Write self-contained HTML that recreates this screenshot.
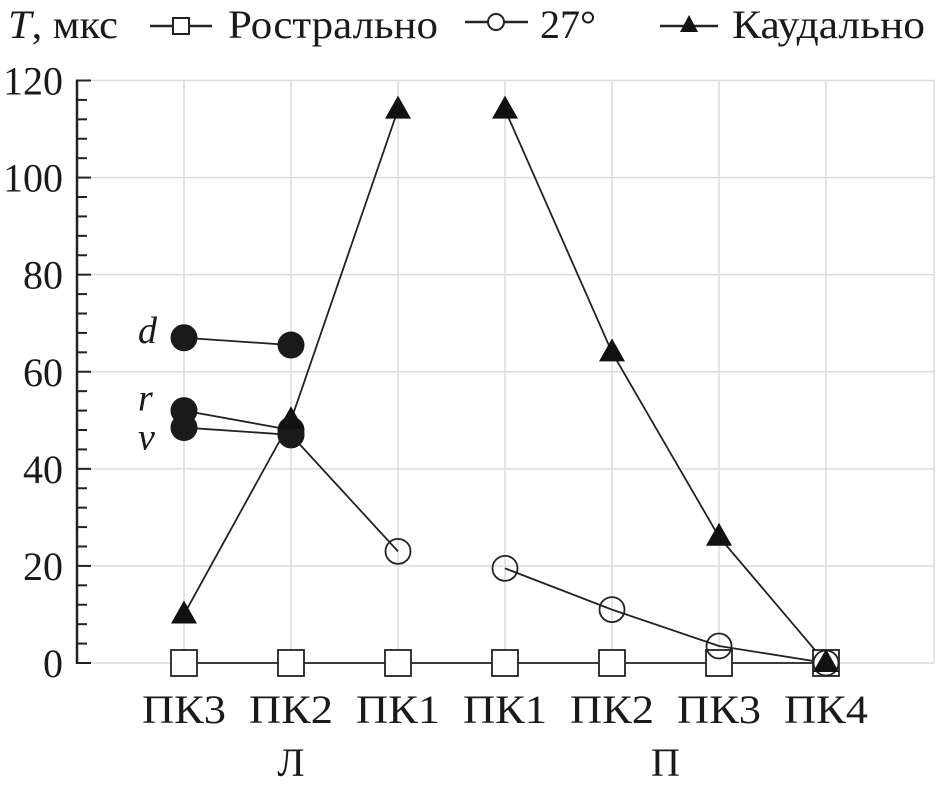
<!DOCTYPE html>
<html><head><meta charset="utf-8"><style>
html,body{margin:0;padding:0;background:#fff}
svg text{font-family:"Liberation Serif",serif;fill:#1a1a1a}
</style></head><body>
<svg id="chart" width="938" height="788" viewBox="0 0 938 788" xmlns="http://www.w3.org/2000/svg">
<g id="grid"></g>
<g id="axes"></g>
<g id="series"></g>
<g id="legend">
<text x="8" y="38" font-size="40" textLength="110" lengthAdjust="spacingAndGlyphs"><tspan font-style="italic">T</tspan>, мкс</text>
<g>
<line x1="150" y1="26" x2="212" y2="26" stroke="#222" stroke-width="2.5"/>
<rect x="173" y="18" width="16" height="16" fill="#fff" stroke="#222" stroke-width="2"/>
<text x="228" y="38" font-size="40" textLength="210" lengthAdjust="spacingAndGlyphs">Рострально</text></g>
<g>
<line x1="465" y1="22" x2="528" y2="22" stroke="#222" stroke-width="2.5"/>
<circle cx="496" cy="22" r="8" fill="#fff" stroke="#222" stroke-width="2"/>
<text x="540" y="38" font-size="40" textLength="56" lengthAdjust="spacingAndGlyphs">27°</text></g>
<g>
<line x1="660" y1="26" x2="718" y2="26" stroke="#222" stroke-width="2.5"/>
<polygon points="689,15 698,32 680,32" fill="#111"/>
<text x="732" y="38" font-size="40" textLength="193" lengthAdjust="spacingAndGlyphs">Каудально</text></g>
</g>
</svg>
<script>
const categories = ["ПК3","ПК2","ПК1","ПК1","ПК2","ПК3","ПК4"];
const groups = ["Л","П"];
const yTicks = [0,20,40,60,80,100,120];
const rostral = [0,0,0,0,0,0,0];
const deg27Left = [null,47,23];
const deg27Right = [19.5,11,3.5,0];
const caudalLeft = [10,50,114];
const caudalRight = [114,64,26,0];
const dValues = [67,65.5];
const rValues = [52,48];
const vValues = [48.5,47];

const NS="http://www.w3.org/2000/svg";
const x0=184, dx=107, yBase=663, yTop=80.5, left=77, right=934;
const xs=i=>x0+i*dx;
const ys=v=>yBase-(v/120)*(yBase-yTop);
function mk(parent,tag,attrs){const e=document.createElementNS(NS,tag);for(const k in attrs)e.setAttribute(k,attrs[k]);parent.appendChild(e);return e;}
const grid=document.getElementById('grid'),axes=document.getElementById('axes'),ser=document.getElementById('series');

yTicks.forEach(t=>{
 const l=mk(grid,'line',{x1:left,x2:right,y1:ys(t),y2:ys(t),stroke:'#dcdcdc','stroke-width':1.5});
 
 
 const tx=mk(axes,'text',{x:63,y:ys(t)+14,'font-size':40,'text-anchor':'end'});
 tx.textContent=t;
 
 
});
for(let v=0;v<=120;v+=4){
 const tk=mk(axes,'line',{x1:left,x2:left+(v%20===0?14:10),y1:ys(v),y2:ys(v),stroke:'#222','stroke-width':2});
 
 
}
categories.forEach((c,i)=>{
 const l=mk(grid,'line',{x1:xs(i),x2:xs(i),y1:yTop,y2:yBase,stroke:'#dcdcdc','stroke-width':1.5});
 
 
 const tx=mk(axes,'text',{x:xs(i),y:723,'font-size':40,'text-anchor':'middle',textLength:84,lengthAdjust:'spacingAndGlyphs'});
 tx.textContent=c;
 
 
});
const rb=mk(grid,'line',{x1:right,x2:right,y1:yTop,y2:yBase,stroke:'#dcdcdc','stroke-width':1.5});


const ax=mk(axes,'line',{x1:left,x2:left,y1:yTop-1,y2:yBase+1,stroke:'#222','stroke-width':2.5});


[[groups[0],xs(1)],[groups[1],(xs(4)+xs(5))/2]].forEach(([g,x])=>{
 const tx=mk(axes,'text',{x:x,y:776,'font-size':40,'text-anchor':'middle'});
 tx.textContent=g;
 
 
});

function line(vals,off,name){
 const pts=[];vals.forEach((v,i)=>{if(v!==null)pts.push(xs(i+off)+','+ys(v));});
 const p=mk(ser,'polyline',{points:pts.join(' '),fill:'none',stroke:'#222','stroke-width':1.8});
 
 
}
line(rostral,0,'rostral-line');
line(deg27Left,0,'deg27-left-line');
line(deg27Right,3,'deg27-right-line');
line(caudalLeft,0,'caudal-left-line');
line(caudalRight,3,'caudal-right-line');
line(dValues,0,'d-line');line(rValues,0,'r-line');line(vValues,0,'v-line');

rostral.forEach((v,i)=>{
 const r=mk(ser,'rect',{x:xs(i)-13,y:ys(v)-13,width:26,height:26,fill:'#fff',stroke:'#222','stroke-width':1.8});
 
 
});
function circles(vals,off){vals.forEach((v,i)=>{if(v===null)return;
 const c=mk(ser,'circle',{cx:xs(i+off),cy:ys(v),r:12.5,fill:'none',stroke:'#222','stroke-width':1.8});
 
 });}
circles(deg27Left,0);circles(deg27Right,3);
function filled(vals,name){vals.forEach((v,i)=>{
 const c=mk(ser,'circle',{cx:xs(i),cy:ys(v),r:13.5,fill:'#1a1a1a'});
 
 });}
filled(dValues,'d-point');filled(rValues,'r-point');filled(vValues,'v-point');
function tris(vals,off){vals.forEach((v,i)=>{const x=xs(i+off),y=ys(v);
 const t=mk(ser,'polygon',{points:`${x},${y-14} ${x+13},${y+9} ${x-13},${y+9}`,fill:'#111'});
 
 });}
tris(caudalLeft,0);tris(caudalRight,3);
[['d',dValues[0],-5],['r',rValues[0],-10],['v',vValues[0],12]].forEach(([s,v,o])=>{
 const tx=mk(ser,'text',{x:138,y:ys(v)+o+10,'font-size':38,'font-style':'italic'});
 tx.textContent=s;
 
 
});
</script>
</body></html>
